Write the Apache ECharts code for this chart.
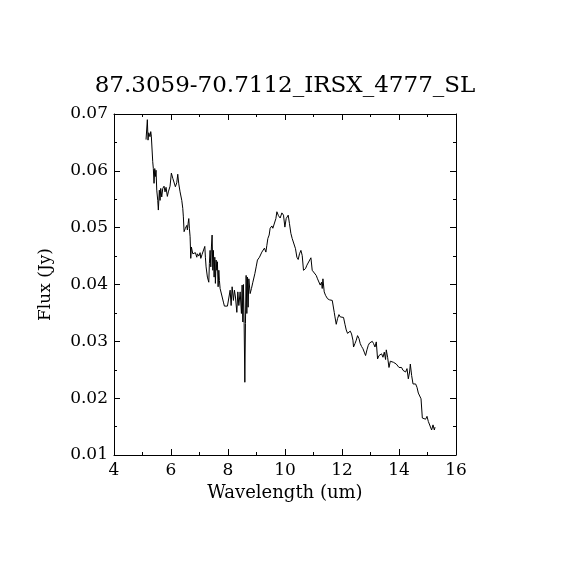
<!DOCTYPE html>
<html>
<head>
<meta charset="utf-8">
<script src="https://cdn.jsdelivr.net/npm/echarts@6/dist/echarts.min.js"></script>
<style>
html,body{margin:0;padding:0;background:#fff;}
#chart{width:570px;height:570px;}
</style>
</head>
<body>
<div id="chart"></div>
<script>
const titleText = "87.3059-70.7112_IRSX_4777_SL";
const xAxisName = "Wavelength (um)";
const yAxisName = "Flux (Jy)";

const wavelength = [
5.124,5.170,5.194,5.219,5.264,5.289,5.310,5.359,5.380,5.405,5.430,5.451,5.475,5.500,5.535,5.556,5.591,5.616,5.640,5.675,
5.711,5.756,5.791,5.826,5.872,5.907,5.967,6.013,6.062,6.108,6.153,6.202,6.237,6.273,6.318,6.378,6.413,6.434,6.459,6.504,
6.554,6.575,6.599,6.624,6.645,6.670,6.694,6.715,6.764,6.810,6.856,6.905,6.926,6.975,7.021,7.045,7.091,7.137,7.186,7.207,
7.231,7.277,7.326,7.347,7.372,7.397,7.418,7.442,7.467,7.488,7.513,7.537,7.558,7.583,7.607,7.628,7.653,7.678,7.699,
7.723,7.783,7.839,7.874,7.934,7.980,8.029,8.075,8.110,8.145,8.190,8.225,8.261,8.310,8.345,8.380,8.426,8.471,8.496,8.521,
8.542,8.566,8.591,8.612,8.636,8.661,8.682,8.707,8.731,8.777,8.823,8.872,8.942,8.988,
9.033,9.104,9.188,9.244,9.279,9.329,9.364,9.399,9.444,9.479,9.539,9.574,9.631,9.680,9.715,9.771,9.831,
9.890,9.947,9.996,10.041,10.112,10.157,10.206,10.252,10.322,10.368,10.417,10.463,10.509,10.558,10.604,10.649,10.720,10.769,10.839,
10.909,10.955,11.025,11.095,11.141,11.190,11.236,11.282,11.306,11.331,11.376,11.422,11.492,11.563,11.658,11.703,11.728,11.753,11.798,11.844,
11.893,11.939,12.009,12.054,12.104,12.149,12.195,12.244,12.289,12.335,12.384,12.405,12.455,12.500,12.546,12.595,12.640,12.686,12.735,12.781,
12.827,12.876,12.922,12.967,13.017,13.062,13.108,13.157,13.203,13.248,13.298,13.343,13.389,13.438,13.484,13.529,13.554,13.600,13.649,13.695,
13.740,13.811,13.860,13.905,13.951,14.000,14.046,14.091,14.140,14.186,14.232,14.281,14.327,14.372,14.397,14.443,14.492,14.537,14.583,14.632,
14.678,14.724,14.773,14.819,14.864,14.934,14.983,15.029,15.099,15.145,15.194,15.240,15.264
];
const flux = [
0.0655,0.0690,0.0654,0.0667,0.0660,0.0669,0.0661,0.0616,0.0604,0.0578,0.0604,0.0590,0.0601,0.0566,0.0548,0.0531,0.0566,0.0548,0.0569,0.0554,
0.0569,0.0573,0.0563,0.0571,0.0555,0.0563,0.0573,0.0596,0.0587,0.0584,0.0572,0.0579,0.0594,0.0577,0.0563,0.0548,0.0534,0.0519,0.0493,0.0499,
0.0504,0.0496,0.0507,0.0516,0.0499,0.0484,0.0446,0.0466,0.0454,0.0453,0.0456,0.0448,0.0454,0.0450,0.0456,0.0446,0.0453,0.0451,0.0467,0.0448,
0.0431,0.0413,0.0404,0.0437,0.0460,0.0431,0.0466,0.0487,0.0425,0.0460,0.0413,0.0448,0.0402,0.0443,0.0425,0.0440,0.0396,0.0425,0.0407,
0.0393,0.0390,0.0369,0.0362,0.0359,0.0362,0.0359,0.0390,0.0363,0.0396,0.0372,0.0390,0.0378,0.0351,0.0387,0.0363,0.0387,0.0349,0.0399,0.0334,
0.0400,0.0331,0.0228,0.0331,0.0416,0.0349,0.0413,0.0360,0.0410,0.0384,0.0393,0.0404,0.0419,0.0431,
0.0443,0.0448,0.0457,0.0460,0.0464,0.0457,0.0469,0.0481,0.0487,0.0499,0.0503,0.0499,0.0501,0.0516,0.0528,0.0521,0.0517,
0.0526,0.0522,0.0501,0.0516,0.0522,0.0507,0.0490,0.0481,0.0479,0.0463,0.0448,0.0444,0.0454,0.0460,0.0451,0.0425,0.0428,0.0434,0.0437,
0.0447,0.0425,0.0424,0.0416,0.0410,0.0409,0.0399,0.0404,0.0393,0.0410,0.0387,0.0381,0.0375,0.0373,0.0372,0.0369,0.0351,0.0343,0.0330,0.0340,
0.0347,0.0343,0.0344,0.0342,0.0330,0.0320,0.0314,0.0312,0.0318,0.0313,0.0302,0.0290,0.0296,0.0302,0.0310,0.0305,0.0296,0.0291,0.0287,0.0281,
0.0275,0.0285,0.0293,0.0297,0.0299,0.0300,0.0296,0.0290,0.0299,0.0269,0.0275,0.0273,0.0278,0.0272,0.0281,0.0268,0.0285,0.0272,0.0254,0.0265,
0.0268,0.0263,0.0266,0.0260,0.0257,0.0254,0.0252,0.0254,0.0249,0.0252,0.0246,0.0252,0.0234,0.0246,0.0260,0.0240,0.0225,0.0222,0.0225,0.0219,
0.0209,0.0206,0.0199,0.0165,0.0163,0.0163,0.0168,0.0159,0.0156,0.0144,0.0153,0.0144,0.0149
];

const xMin = 4, xMax = 16, xStep = 2;
const yMin = 0.01, yMax = 0.07, yStep = 0.01;

const seriesData = wavelength.map((w, i) => [w, flux[i]]);

const serif = "DejaVu Serif";
const axisLineStyle = { color: '#000', width: 1 };

function makeX(show, pos) {
  return {
    type: 'value', position: pos, min: xMin, max: xMax, interval: xStep,
    name: show ? xAxisName : '', nameLocation: 'middle', nameGap: 27,
    nameTextStyle: { fontFamily: serif, fontSize: 18, color: '#000' },
    axisLine: { show: true, onZero: false, lineStyle: axisLineStyle },
    axisTick: { show: true, inside: true, length: 6, lineStyle: axisLineStyle },
    minorTick: { show: true, splitNumber: 2, length: 3, lineStyle: axisLineStyle },
    axisLabel: { show: show, margin: 7, fontFamily: serif, fontSize: 17, color: '#000' },
    splitLine: { show: false }, minorSplitLine: { show: false }
  };
}
function makeY(show, pos) {
  return {
    type: 'value', position: pos, min: yMin, max: yMax, interval: yStep,
    name: show ? yAxisName : '', nameLocation: 'middle', nameGap: 60,
    nameTextStyle: { fontFamily: serif, fontSize: 17, color: '#000' },
    axisLine: { show: true, onZero: false, lineStyle: axisLineStyle },
    axisTick: { show: true, inside: true, length: 6, lineStyle: axisLineStyle },
    minorTick: { show: true, splitNumber: 2, length: 3, lineStyle: axisLineStyle },
    axisLabel: { show: show, margin: 6, fontFamily: serif, fontSize: 17, color: '#000',
                 formatter: v => v.toFixed(2) },
    splitLine: { show: false }, minorSplitLine: { show: false }
  };
}

const chart = echarts.init(document.getElementById('chart'), null, { renderer: 'canvas' });
chart.setOption({
  backgroundColor: '#fff',
  animation: false,
  title: {
    text: titleText, left: 'center', top: 70,
    textStyle: { fontFamily: serif, fontWeight: 'normal', fontSize: 23, color: '#000' }
  },
  grid: { left: 114, right: 114, top: 114, bottom: 115 },
  xAxis: [makeX(true, 'bottom'), makeX(false, 'top')],
  yAxis: [makeY(true, 'left'), makeY(false, 'right')],
  series: [{
    type: 'line', xAxisIndex: 0, yAxisIndex: 0, data: seriesData,
    showSymbol: false, symbol: 'none',
    lineStyle: { color: '#000', width: 1 }
  }]
});
</script>
</body>
</html>
